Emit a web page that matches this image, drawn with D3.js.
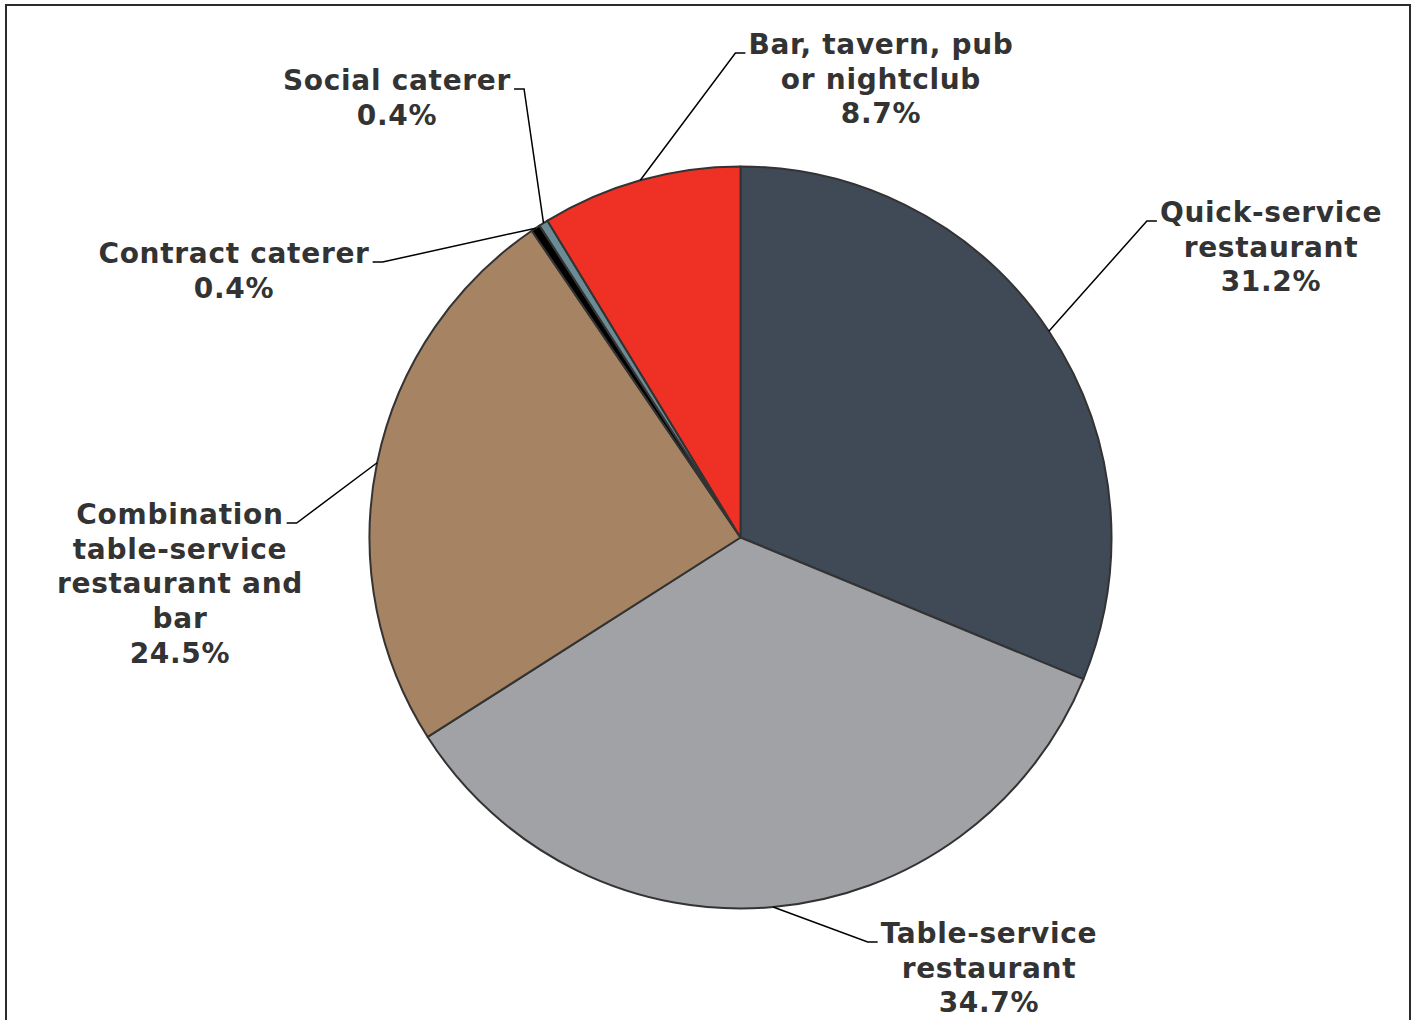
<!DOCTYPE html>
<html>
<head>
<meta charset="utf-8">
<script src="https://cdn.jsdelivr.net/npm/d3@7"></script>
<style>
  html, body { margin: 0; padding: 0; background: #fff; }
  svg { display: block; }
  text { font-family: "DejaVu Sans", Verdana, sans-serif; font-weight: bold; letter-spacing: 0.7px; }
</style>
</head>
<body>
<svg id="chart" width="1416" height="1020"></svg>
<script>
// Share of establishments by type (percent), clockwise from 12 o'clock
const categories = [
  "Quick-service restaurant",
  "Table-service restaurant",
  "Combination table-service restaurant and bar",
  "Contract caterer",
  "Social caterer",
  "Bar, tavern, pub or nightclub"
];
const shares = [31.2, 34.7, 24.5, 0.4, 0.4, 8.7];

// Wrapped label lines (name part) for each category
const labelLines = [
  ["Quick-service", "restaurant"],
  ["Table-service", "restaurant"],
  ["Combination", "table-service", "restaurant and", "bar"],
  ["Contract caterer"],
  ["Social caterer"],
  ["Bar, tavern, pub", "or nightclub"]
];

const sliceColors = ["#3f4a56", "#a1a2a6", "#a68463", "#000000", "#6b8b95", "#ee3124"];

// Label placement: block centre x, centre y of first line, side the leader attaches to
const labelLayout = [
  { x: 1271, y: 212, side: "left" },
  { x: 989,  y: 933, side: "left" },
  { x: 180,  y: 514, side: "right" },
  { x: 234,  y: 253, side: "right" },
  { x: 397,  y: 80,  side: "right" },
  { x: 881,  y: 44,  side: "left" }
];

const svg = d3.select("#chart");
const cx = 740.5, cy = 537.5, radius = 371;
const lineGap = 34.7;
const fontSize = 28;
const fmt = d3.format(".1f");

// Outer frame
svg.append("rect")
  .attr("x", 6).attr("y", 5)
  .attr("width", 1404).attr("height", 1040)
  .attr("fill", "none")
  .attr("stroke", "#2b2b2b")
  .attr("stroke-width", 2);

const data = categories.map((c, i) => ({ name: c, value: shares[i], i }));

const pie = d3.pie().sort(null).value(d => d.value)
  .startAngle(0).endAngle(2 * Math.PI);
const arcs = pie(data);

const arc = d3.arc().innerRadius(0).outerRadius(radius);

const g = svg.append("g").attr("transform", `translate(${cx},${cy})`);

g.selectAll("path.slice")
  .data(arcs)
  .join("path")
  .attr("class", "slice")
  .attr("d", arc)
  .attr("fill", d => sliceColors[d.data.i])
  .attr("stroke", "#333")
  .attr("stroke-width", 2)
  .attr("stroke-linejoin", "round");

// Labels and leader lines
const labels = svg.append("g");
arcs.forEach(a => {
  const i = a.data.i;
  const lay = labelLayout[i];
  const lines = labelLines[i].concat([fmt(a.data.value) + "%"]);
  const t = labels.append("text")
    .attr("text-anchor", "middle")
    .attr("font-size", fontSize)
    .attr("fill", "#333");
  lines.forEach((ln, k) => {
    t.append("tspan")
      .attr("x", lay.x)
      .attr("y", lay.y + k * lineGap + 10)
      .text(ln);
  });
  // width of first line to find where the leader meets the text
  const firstW = t.select("tspan").node().getComputedTextLength();
  const ly = lay.y + 9;
  let textEdge, elbowX;
  if (lay.side === "left") {
    textEdge = lay.x - firstW / 2 - 3;
    elbowX = textEdge - 10;
  } else {
    textEdge = lay.x + firstW / 2 + 3;
    elbowX = textEdge + 10;
  }
  const mid = (a.startAngle + a.endAngle) / 2;
  const px = cx + radius * Math.sin(mid);
  const py = cy - radius * Math.cos(mid);
  labels.append("polyline")
    .attr("points", `${px},${py} ${elbowX},${ly} ${textEdge},${ly}`)
    .attr("fill", "none")
    .attr("stroke", "#000")
    .attr("stroke-width", 1.5);
});
</script>
</body>
</html>
